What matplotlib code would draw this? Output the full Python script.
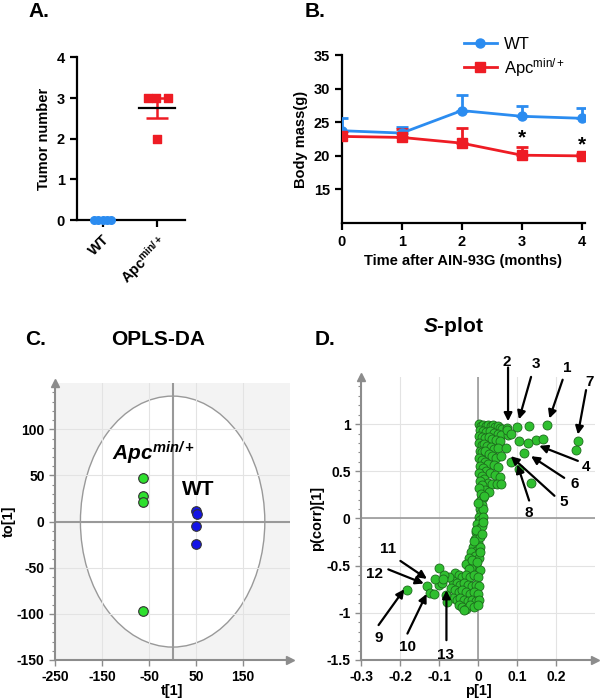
import matplotlib
matplotlib.use('Agg')
import matplotlib.pyplot as plt
from matplotlib.patches import Ellipse
from matplotlib.lines import Line2D
import numpy as np

plt.rcParams['font.family'] = ['Liberation Sans', 'DejaVu Sans']
plt.rcParams['font.weight'] = 'bold'
plt.rcParams['axes.labelweight'] = 'bold'
plt.rcParams['axes.unicode_minus'] = False
plt.rcParams['mathtext.fontset'] = 'custom'
plt.rcParams['mathtext.rm'] = 'Liberation Sans'
plt.rcParams['mathtext.it'] = 'Liberation Sans:italic'
plt.rcParams['mathtext.bf'] = 'Liberation Sans:bold'
plt.rcParams['mathtext.bfit'] = 'Liberation Sans:italic:bold'

# A. tumor number
wt_tumors = [0, 0, 0, 0, 0]
apc_tumors = [3, 3, 3, 2]
group_labels = ['WT', r'Apc$^{\mathbf{min/+}}$']

# B. body mass
months = [0, 1, 2, 3, 4]
wt_mass = [23.75, 23.4, 26.75, 25.9, 25.6]
wt_err = [1.9, 0.9, 2.25, 1.55, 1.55]
apc_mass = [22.9, 22.75, 21.9, 20.1, 20.0]
apc_err = [0.85, 1.3, 2.2, 1.25, 0.35]
signif_months = [3, 4]

# C. OPLS-DA scores
apc_t = [-62, -62, -62, -62]
apc_to = [47, 28, 21, -97]
wt_t = [50, 52, 50, 50]
wt_to = [11, 8, -5, -24]
ellipse_axes = [196, 136]

# D. S-plot loadings
s_p1 = [
    0.002, 0.008, 0.014, 0.020, 0.026, 0.032, 0.038, 0.044, 0.050, 0.056, 0.062,
    0.004, 0.012, 0.020, 0.030, 0.040, 0.050, 0.060,
    0.003, 0.010, 0.018, 0.028, 0.036, 0.046, 0.056,
    0.002, 0.009, 0.016, 0.024, 0.034, 0.042, 0.052,
    0.004, 0.011, 0.019, 0.027, 0.036, 0.046, 0.058,
    0.003, 0.010, 0.018, 0.026, 0.040, 0.050,
    0.004, 0.012, 0.020, 0.030, 0.044, 0.056,
    0.002, 0.009, 0.016, 0.025, 0.036, 0.048, 0.060,
    0.004, 0.010, 0.018, 0.028,
    0.003, 0.008, 0.012, 0.006, 0.010, 0.004, 0.008, 0.002, 0.006, -0.002,
    0.004, -0.004, 0.002, -0.008, 0.000, -0.012, -0.004, -0.018, -0.008, -0.024,
    -0.012, -0.030, -0.004, -0.018,
    0.012, 0.014, 0.010, 0.006, 0.004, 0.002, 0.004,
    0.016, 0.000, 0.014, -0.004, 0.010, -0.010, 0.006, -0.016, -0.024, -0.002,
    -0.060, -0.050, -0.040, -0.030, -0.020, -0.010, 0.000,
    -0.065, -0.055, -0.045, -0.035, -0.025, -0.015, -0.005, 0.003,
    -0.070, -0.060, -0.050, -0.040, -0.030, -0.020, -0.010, 0.000,
    -0.065, -0.055, -0.045, -0.035, -0.025, -0.015, -0.005, 0.002,
    -0.050, -0.040, -0.030, -0.020, -0.010, 0.000, -0.035,
    -0.181, -0.131, -0.122, -0.112, -0.101, -0.101, -0.092, -0.110, -0.083,
    -0.075, -0.088, -0.080, -0.090,
    0.178, 0.131, 0.101, 0.075, 0.256, 0.252, 0.148, 0.166, 0.127, 0.106,
    0.118, 0.071, 0.084, 0.136, 0.105, 0.076, 0.075, 0.085,
]
s_pcorr = [
    1.00, 0.98, 0.99, 0.98, 0.99, 0.98, 0.99, 0.97, 0.98, 0.96, 0.95,
    0.94, 0.93, 0.92, 0.93, 0.91, 0.90, 0.88,
    0.87, 0.86, 0.85, 0.86, 0.84, 0.83, 0.82,
    0.80, 0.78, 0.79, 0.77, 0.76, 0.74, 0.75,
    0.72, 0.70, 0.71, 0.68, 0.66, 0.64, 0.66,
    0.64, 0.62, 0.60, 0.58, 0.57, 0.55,
    0.56, 0.53, 0.50, 0.48, 0.46, 0.44,
    0.48, 0.45, 0.42, 0.38, 0.36, 0.37, 0.36,
    0.40, 0.35, 0.30, 0.28,
    0.32, 0.26, 0.22, 0.18, 0.14, 0.10, 0.06, 0.02, -0.02, -0.06,
    -0.10, -0.14, -0.18, -0.22, -0.26, -0.30, -0.34, -0.36, -0.40, -0.42,
    -0.46, -0.48, -0.50, -0.52,
    0.10, 0.02, -0.08, -0.20, -0.30, -0.42, -0.55,
    0.24, 0.16, -0.04, -0.12, -0.16, -0.24, -0.36, -0.44, -0.54, -0.46,
    -0.58, -0.60, -0.62, -0.60, -0.62, -0.60, -0.62,
    -0.66, -0.68, -0.70, -0.68, -0.70, -0.72, -0.70, -0.72,
    -0.74, -0.76, -0.78, -0.76, -0.78, -0.80, -0.78, -0.80,
    -0.84, -0.86, -0.84, -0.86, -0.88, -0.86, -0.88, -0.86,
    -0.92, -0.94, -0.96, -0.92, -0.94, -0.92, -0.97,
    -0.76, -0.72, -0.79, -0.80, -0.71, -0.53, -0.68, -0.64, -0.81,
    -0.62, -0.60, -0.89, -0.64,
    0.986, 0.975, 0.965, 0.958, 0.817, 0.730, 0.835, 0.845, 0.800, 0.817,
    0.695, 0.747, 0.600, 0.380, 0.520, 0.880, 0.940, 0.900,
]

# numbered arrows: label, text pos, arrow tail, arrow head
s_labels = ['1', '2', '3', '4', '5', '6', '7', '8', '9', '10', '11', '12', '13']
s_text = [(0.230, 1.59), (0.074, 1.66), (0.148, 1.64), (0.277, 0.55), (0.221, 0.17),
          (0.249, 0.36), (0.286, 1.45), (0.131, 0.06), (-0.255, -1.27), (-0.180, -1.36),
          (-0.230, -0.32), (-0.266, -0.59), (-0.083, -1.45)]
s_tail = [(0.217, 1.47), (0.077, 1.60), (0.136, 1.50), (0.256, 0.61), (0.196, 0.24),
          (0.221, 0.43), (0.277, 1.36), (0.131, 0.19), (-0.255, -1.13), (-0.181, -1.22),
          (-0.199, -0.45), (-0.230, -0.54), (-0.081, -1.29)]
s_head = [(0.183, 1.06), (0.077, 1.03), (0.105, 1.05), (0.157, 0.77), (0.084, 0.66),
          (0.136, 0.66), (0.256, 0.89), (0.101, 0.57), (-0.189, -0.75), (-0.132, -0.80),
          (-0.131, -0.64), (-0.139, -0.69), (-0.081, -0.76)]

wt_blue = '#2b8cf0'
apc_red = '#ee1c24'
gray = '#8c8c8c'

fig = plt.figure(figsize=(6, 6.99), dpi=100)


def prism_axes(ax):
    for s in ['top', 'right']:
        ax.spines[s].set_visible(False)
    for s in ['left', 'bottom']:
        ax.spines[s].set_linewidth(1.6)
    ax.tick_params(width=1.6, length=5, labelsize=10.5)


def gray_axes(ax):
    for s in ['top', 'right']:
        ax.spines[s].set_visible(False)
    for s in ['left', 'bottom']:
        ax.spines[s].set_color(gray)
        ax.spines[s].set_linewidth(1.5)
    ax.plot(1.0, 0, '>', color=gray, ms=6, transform=ax.transAxes, clip_on=False, zorder=5)
    ax.plot(0, 1.0, '^', color=gray, ms=6, transform=ax.transAxes, clip_on=False, zorder=5)
    ax.tick_params(color=gray, width=1, length=4, labelsize=10)
    ax.tick_params(which='minor', color=gray, width=0.8, length=2.5)
    ax.grid(True, color='#e3e3e3', lw=0.8)
    ax.set_axisbelow(True)


# ---------------- A ----------------
axA = fig.add_axes([0.128, 0.685, 0.18, 0.233])
wt_jitter = np.array([-0.16, -0.08, 0, 0.08, 0.16])
apc_jitter = np.array([-0.18, -0.03, 0.19, 0.0])
axA.scatter(0 + wt_jitter, wt_tumors, s=30, color=wt_blue, zorder=3, clip_on=False)
axA.scatter(1 + apc_jitter, apc_tumors, s=30, marker='s', color=apc_red, zorder=3)
apc_mean = np.mean(apc_tumors)
apc_sem = np.std(apc_tumors, ddof=1) / np.sqrt(len(apc_tumors))
axA.plot([0.67, 1.33], [apc_mean, apc_mean], color='black', lw=1.6, zorder=4)
axA.errorbar([1], [apc_mean], yerr=[[apc_sem], [apc_sem]], fmt='none', ecolor=apc_red,
             elinewidth=1.8, capsize=8, capthick=1.8, zorder=2)
axA.plot([-0.2, 0.2], [np.mean(wt_tumors)] * 2, color='black', lw=1.6, zorder=2,
         clip_on=False)
axA.set_xlim(-0.47, 1.5)
axA.set_ylim(0, 4)
axA.set_yticks([0, 1, 2, 3, 4])
axA.set_xticks([0, 1])
axA.set_xticklabels(group_labels, rotation=45, ha='right', rotation_mode='anchor',
                    fontsize=11)
axA.set_ylabel('Tumor number', fontsize=10.5)
prism_axes(axA)
fig.text(0.047, 0.983, 'A.', fontsize=15, va='center')

# ---------------- B ----------------
axB = fig.add_axes([0.5695, 0.681, 0.405, 0.24])
axB.errorbar(months, wt_mass, yerr=[np.zeros(5), wt_err], color=wt_blue, marker='o',
             ms=6.5, lw=2, capsize=4, capthick=2, elinewidth=2, zorder=3)
axB.errorbar(months, apc_mass, yerr=[np.zeros(5), apc_err], color=apc_red, marker='s',
             ms=6.5, lw=2, capsize=4, capthick=2, elinewidth=2, zorder=3)
for m in signif_months:
    i = months.index(m)
    axB.text(m, apc_mass[i] + apc_err[i] + 1.3, '*', fontsize=15,
             ha='center', va='center')
axB.set_xlim(0, 4.05)
axB.set_ylim(10, 35)
axB.set_yticks([15, 20, 25, 30, 35])
axB.set_xticks(months)
axB.set_xlabel('Time after AIN-93G (months)', fontsize=10.5)
axB.set_ylabel('Body mass(g)', fontsize=10.5)
prism_axes(axB)
handles = [Line2D([], [], color=wt_blue, marker='o', ms=6.5, lw=2),
           Line2D([], [], color=apc_red, marker='s', ms=6.5, lw=2)]
axB.legend(handles, ['WT', r'Apc$^{\mathregular{min/+}}$'], loc='upper left',
           bbox_to_anchor=(0.44, 1.2), frameon=False, prop={'weight': 'normal', 'size': 12},
           handlelength=2.0, labelspacing=0.25, handletextpad=0.4)
fig.text(0.508, 0.984, 'B.', fontsize=15, va='center')

# ---------------- C ----------------
axC = fig.add_axes([0.0917, 0.0558, 0.392, 0.396])
axC.set_facecolor('#f3f3f3')
axC.add_patch(Ellipse((0, 0), 2 * ellipse_axes[0], 2 * ellipse_axes[1], facecolor='white',
                      edgecolor='#999999', lw=1.0, zorder=0.3))
axC.axhline(0, color='#999999', lw=1.5, zorder=1)
axC.axvline(0, color='#999999', lw=1.5, zorder=1)
axC.scatter(apc_t, apc_to, s=48, color='#2ee02e', edgecolor='#333333', lw=0.8, zorder=3)
axC.scatter(wt_t, wt_to, s=48, color='#1414e6', edgecolor='#333333', lw=0.8, zorder=3)
axC.text(-128, 66, r'Apc$^{\mathbfit{min/+}}$', fontsize=15,
         fontstyle='italic', ha='left', va='baseline')
axC.text(20, 35, 'WT', fontsize=15, ha='left', va='center')
axC.set_xlim(-250, 250)
axC.set_ylim(-150, 150)
axC.set_xticks([-250, -150, -50, 50, 150])
axC.set_yticks([-150, -100, -50, 0, 50, 100])
axC.set_yticks(np.arange(-150, 150, 10), minor=True)
gray_axes(axC)
axC.set_xlabel('t[1]', fontsize=10.5, labelpad=0)
axC.set_ylabel('to[1]', fontsize=10.5, labelpad=1)
fig.text(0.042, 0.514, 'C.', fontsize=15, va='center')
fig.text(0.263, 0.514, 'OPLS-DA', fontsize=15, va='center', ha='center')

# ---------------- D ----------------
axD = fig.add_axes([0.6017, 0.0558, 0.39, 0.405])
axD.axhline(0, color='#999999', lw=1.2, zorder=1)
axD.axvline(0, color='#999999', lw=1.2, zorder=1)
axD.scatter(s_p1, s_pcorr, s=42, color='#2fbf2f', edgecolor='#1d6b1d', lw=0.6, zorder=3)
for lab, tp, tl, hd in zip(s_labels, s_text, s_tail, s_head):
    axD.text(tp[0], tp[1], lab, fontsize=11, ha='center', va='center', clip_on=False)
    axD.annotate('', xy=hd, xytext=tl, annotation_clip=False,
                 arrowprops=dict(arrowstyle='-|>', color='black', lw=1.6,
                                 mutation_scale=12, shrinkA=0, shrinkB=0))
axD.set_xlim(-0.3, 0.3)
axD.set_ylim(-1.5, 1.5)
axD.set_xticks([-0.3, -0.2, -0.1, 0, 0.1, 0.2])
axD.set_xticklabels(['-0.3', '-0.2', '-0.1', '0', '0.1', '0.2'])
axD.set_yticks([-1.5, -1, -0.5, 0, 0.5, 1])
axD.set_yticklabels(['-1.5', '-1', '-0.5', '0', '0.5', '1'])
axD.set_yticks(np.arange(-1.5, 1.5, 0.1), minor=True)
gray_axes(axD)
axD.set_xlabel('p[1]', fontsize=10.5, labelpad=0)
axD.set_ylabel('p(corr)[1]', fontsize=10.5, labelpad=2)
fig.text(0.525, 0.514, 'D.', fontsize=15, va='center')
fig.text(0.755, 0.533, r'$\mathbfit{S}$-plot', fontsize=15, va='center', ha='center')

fig.savefig('out.png', dpi=100)
